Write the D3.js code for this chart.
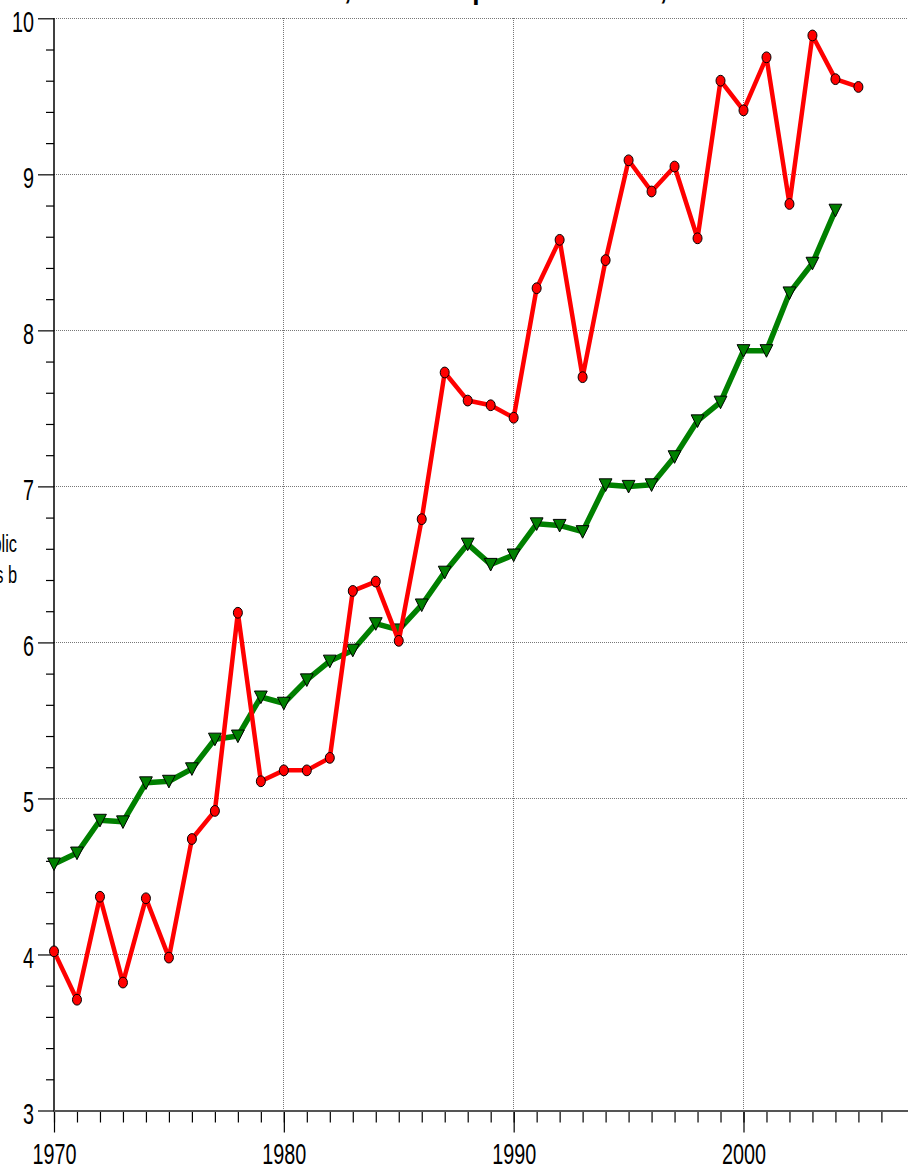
<!DOCTYPE html>
<html><head><meta charset="utf-8">
<script src="https://cdn.jsdelivr.net/npm/d3@7/dist/d3.min.js"></script>
<style>html,body{margin:0;padding:0;background:#fff;overflow:hidden}</style>
</head><body>
<svg id="c" width="908" height="1166"></svg>
<script>
// ---- data ----
const redYears = [1970,1971,1972,1973,1974,1975,1976,1977,1978,1979,1980,1981,1982,1983,1984,1985,1986,1987,1988,1989,1990,1991,1992,1993,1994,1995,1996,1997,1998,1999,2000,2001,2002,2003,2004,2005];
const redValues = [4.02,3.71,4.37,3.82,4.36,3.98,4.74,4.92,6.19,5.11,5.18,5.18,5.26,6.33,6.39,6.01,6.79,7.73,7.55,7.52,7.44,8.27,8.58,7.70,8.45,9.09,8.89,9.05,8.59,9.60,9.41,9.75,8.81,9.89,9.61,9.56];
const greenYears = [1970,1971,1972,1973,1974,1975,1976,1977,1978,1979,1980,1981,1982,1983,1984,1985,1986,1987,1988,1989,1990,1991,1992,1993,1994,1995,1996,1997,1998,1999,2000,2001,2002,2003,2004];
const greenValues = [4.58,4.65,4.86,4.85,5.10,5.11,5.19,5.38,5.40,5.65,5.61,5.76,5.88,5.95,6.12,6.08,6.24,6.45,6.63,6.50,6.56,6.76,6.75,6.71,7.01,7.00,7.01,7.19,7.42,7.54,7.87,7.87,8.24,8.43,8.77];
const xMajorTicks = [1970,1980,1990,2000];
const xMinorTicks = [1970,1971,1972,1973,1974,1975,1976,1977,1978,1979,1980,1981,1982,1983,1984,1985,1986,1987,1988,1989,1990,1991,1992,1993,1994,1995,1996,1997,1998,1999,2000,2001,2002,2003,2004,2005,2006];
const yMajorTicks = [3,4,5,6,7,8,9,10];
const yMinorTicks = [3.2,3.4,3.6,3.8,4.2,4.4,4.6,4.8,5.2,5.4,5.6,5.8,6.2,6.4,6.6,6.8,7.2,7.4,7.6,7.8,8.2,8.4,8.6,8.8,9.2,9.4,9.6,9.8];
const titleText = "Health costs, share as percent of GDP, 1970–2005";
const yLabelLines = ["Public", "costs b"];

// ---- layout ----
const F = "'Liberation Sans',Arial,sans-serif";
const svg = d3.select("#c");
const x = d3.scaleLinear().domain([1970, 2000]).range([54, 743.5]);
const y = d3.scaleLinear().domain([3, 10]).range([1110.5, 18.3]);
const X0 = 54, XR = 908, YB = 1110.5, YT = 18.3;

function fitScale(sel, target){
  const w = sel.node().getComputedTextLength();
  return target / w;
}

// grid
const grid = svg.append("g").attr("stroke","#777").attr("stroke-width",1).attr("stroke-dasharray","1,1").attr("shape-rendering","crispEdges");
grid.selectAll("line.h").data(yMajorTicks).join("line")
  .attr("x1", X0).attr("x2", XR).attr("y1", d=>y(d)).attr("y2", d=>y(d));
grid.selectAll("line.v").data(xMajorTicks.slice(1)).join("line")
  .attr("x1", d=>x(d)).attr("x2", d=>x(d)).attr("y1", YT).attr("y2", YB);

// condensed scale (Arial-Narrow-like)
const probe = svg.append("text").attr("font-family",F).attr("font-size",29).text("1970");
const sx = fitScale(probe, 44);
probe.remove();

// left axis
const yAxisMinor = d3.axisLeft(y).tickValues(yMinorTicks).tickSize(8).tickFormat("");
const yAxisMajor = d3.axisLeft(y).tickValues(yMajorTicks).tickSize(16).tickFormat(d3.format("d"));
const gyMin = svg.append("g").attr("transform",`translate(${X0},0)`).call(yAxisMinor);
const gy = svg.append("g").attr("transform",`translate(${X0},0)`).call(yAxisMajor);
[gyMin, gy].forEach(g=>{
  g.select(".domain").remove();
  g.selectAll(".tick line").attr("stroke","#000").attr("stroke-width",1.2);
});
gy.selectAll(".tick text")
  .attr("x",0).attr("dy",null).attr("y",0)
  .attr("font-family",F).attr("font-size",29).attr("fill","#000")
  .attr("text-anchor","end")
  .attr("transform",`translate(-20,13) scale(${sx},1)`);
svg.append("line").attr("x1",X0).attr("x2",X0).attr("y1",YT).attr("y2",YB+1)
  .attr("stroke","#000").attr("stroke-width",1.5);

// bottom axis
const xAxisMinor = d3.axisBottom(x).tickValues(xMinorTicks).tickSize(12).tickFormat("");
const xAxisMajor = d3.axisBottom(x).tickValues(xMajorTicks).tickSize(22).tickFormat(d3.format("d"));
const gxMin = svg.append("g").attr("transform",`translate(0,${YB})`).call(xAxisMinor);
const gx = svg.append("g").attr("transform",`translate(0,${YB})`).call(xAxisMajor);
[gxMin, gx].forEach(g=>{
  g.select(".domain").remove();
  g.selectAll(".tick line").attr("stroke","#000").attr("stroke-width",1.2);
});
gx.selectAll(".tick text")
  .attr("y",0).attr("dy",null)
  .attr("font-family",F).attr("font-size",29).attr("fill","#000")
  .attr("text-anchor","middle")
  .attr("transform",`translate(0,53.5) scale(${sx},1)`);
svg.append("line").attr("x1",X0).attr("x2",XR).attr("y1",YB+0.5).attr("y2",YB+0.5)
  .attr("stroke","#555").attr("stroke-width",2.2);

// y label (clipped at left edge, as in reference)
const yl = svg.append("g").attr("font-family",F).attr("font-size",24).attr("fill","#000");
yLabelLines.forEach((t,i)=>{
  yl.append("text").attr("text-anchor","end")
    .attr("transform",`translate(17,${552 + i*31}) scale(${sx},1)`).text(t);
});

// title (only its descenders are visible at top)
const tt = svg.append("text").attr("font-family",F).attr("font-weight","bold").attr("font-size",27).attr("fill","#000").text(titleText);
{
  const n = tt.node();
  const i1 = titleText.indexOf(","), i2 = titleText.indexOf(",", i1+1);
  const c1 = n.getSubStringLength(0,i1), c2 = n.getSubStringLength(0,i2);
  const cw = n.getSubStringLength(i1,1);
  const s = (663-347)/(c2-c1);
  const x0 = 347 - s*(c1 + cw*0.4);
  tt.attr("transform",`translate(${x0},-1.2) scale(${s},1)`);
}

// series
const line = d3.line().x(d=>x(d[0])).y(d=>y(d[1]));
const greenPts = greenYears.map((yr,i)=>[yr, greenValues[i]]);
const redPts = redYears.map((yr,i)=>[yr, redValues[i]]);

svg.append("path").datum(greenPts).attr("d",line)
  .attr("fill","none").attr("stroke","#008000").attr("stroke-width",5.5).attr("stroke-linejoin","round");
svg.append("g").selectAll("path").data(greenPts).join("path")
  .attr("transform",d=>`translate(${x(d[0])},${y(d[1])})`)
  .attr("d","M-6.4,-6L6.4,-6L0,6.6Z")
  .attr("fill","#008000").attr("stroke","#000").attr("stroke-width",1);

svg.append("path").datum(redPts).attr("d",line)
  .attr("fill","none").attr("stroke","#ff0000").attr("stroke-width",4.5).attr("stroke-linejoin","round");
svg.append("g").selectAll("ellipse").data(redPts).join("ellipse")
  .attr("cx",d=>x(d[0])).attr("cy",d=>y(d[1]))
  .attr("rx",4.5).attr("ry",5.4)
  .attr("fill","#ff0000").attr("stroke","#000").attr("stroke-width",1);
</script>
</body></html>
